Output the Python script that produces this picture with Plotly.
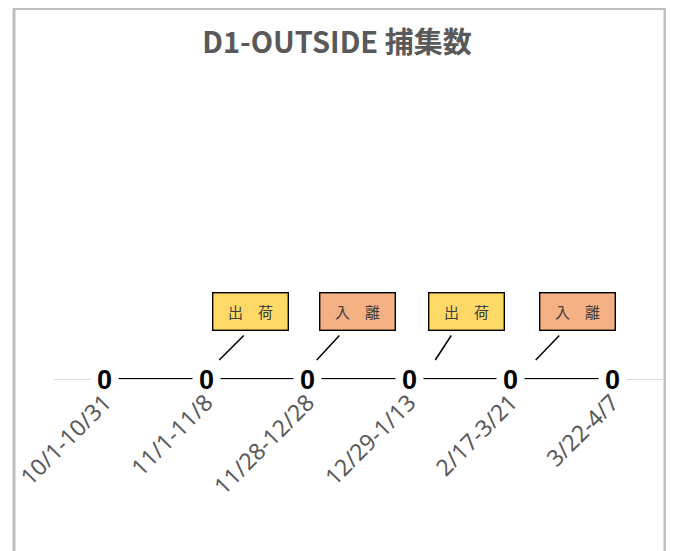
import plotly.graph_objects as go

# ---- data ----
categories = ["10/1-10/31", "11/1-11/8", "11/28-12/28", "12/29-1/13", "2/17-3/21", "3/22-4/7"]
counts = [0, 0, 0, 0, 0, 0]
callout_texts = ["出　荷", "入　離", "出　荷", "入　離"]
callout_categories = ["11/1-11/8", "11/28-12/28", "12/29-1/13", "2/17-3/21"]
callout_kinds = ["ship", "leave", "ship", "leave"]
title_text = "D1-OUTSIDE 捕集数"

# ---- style ----
kind_colors = {"ship": "#FFD966", "leave": "#F4B183"}
box_dx = [44, 50, 57, 67]          # px offset of callout box centres from point
box_dy = 68
tip_dx = [13, 9, 26, 25]           # leader line tip offsets
tail_dx = [39, 33, 43, 50]         # leader line tail offsets
tip_dy = 19
tail_dy = 45

# page body has an 8px margin, so the canvas is 8px smaller than the window
W, H = 666, 543
ML, MR, MT, MB = 46, 11, 67, 172
PW, PH = W - ML - MR, H - MT - MB

fig = go.Figure()
fig.add_trace(go.Scatter(
    x=categories, y=counts, mode="lines",
    line=dict(color="#000000", width=2),
    hoverinfo="skip", showlegend=False,
))

# data labels with white background (gap in line)
for c, v in zip(categories, counts):
    fig.add_annotation(
        x=c, y=v, text=f"<b>{v}</b>", showarrow=False,
        font=dict(family="Liberation Sans, Arial", size=27, color="#000000"),
        bgcolor="#ffffff", borderpad=0, width=27, height=24, yshift=-1,
    )

# callouts
for i, (c, t, k) in enumerate(zip(callout_categories, callout_texts, callout_kinds)):
    v = counts[categories.index(c)]
    fig.add_annotation(
        x=c, y=v, text=t, showarrow=False,
        xshift=box_dx[i], yshift=box_dy,
        font=dict(family="Noto Sans CJK JP", size=15, color="#404040"),
        bgcolor=kind_colors[k], bordercolor="#000000", borderwidth=1.4,
        borderpad=2, width=70, height=32, align="center", valign="middle",
    )
    fig.add_annotation(
        x=c, y=v, text="", showarrow=True, arrowhead=0,
        arrowwidth=1.5, arrowcolor="#000000",
        xshift=tip_dx[i], yshift=tip_dy,
        ax=tail_dx[i] - tip_dx[i], ay=-(tail_dy - tip_dy),
        axref="pixel", ayref="pixel",
    )

# chart frame
fig.add_shape(
    type="rect", xref="paper", yref="paper",
    x0=(6 - ML) / PW, x1=(657 - ML) / PW,
    y0=-1.0, y1=(H - MB - 0.5) / PH,
    line=dict(color="#bfbfbf", width=3), fillcolor="rgba(0,0,0,0)", layer="below",
)

fig.update_layout(
    width=W, height=H,
    margin=dict(l=ML, r=MR, t=MT, b=MB, autoexpand=False),
    paper_bgcolor="#ffffff", plot_bgcolor="#ffffff",
    title=dict(
        text=f"<b>{title_text}</b>", x=329 / W, xref="container", xanchor="center",
        y=1 - 35 / H, yref="container", yanchor="middle",
        font=dict(family="Noto Sans CJK JP", size=29, color="#595959"),
    ),
    xaxis=dict(
        type="category", categoryarray=categories, range=[-0.5, 5.5],
        showgrid=False, zeroline=False, showline=True, linecolor="#d9d9d9", linewidth=1,
        ticks="", tickangle=-45, automargin=False,
        tickfont=dict(family="Noto Sans", size=23, color="#595959"),
    ),
    yaxis=dict(range=[0, 1], visible=False, automargin=False),
    showlegend=False,
)

fig.write_html("out.html")
